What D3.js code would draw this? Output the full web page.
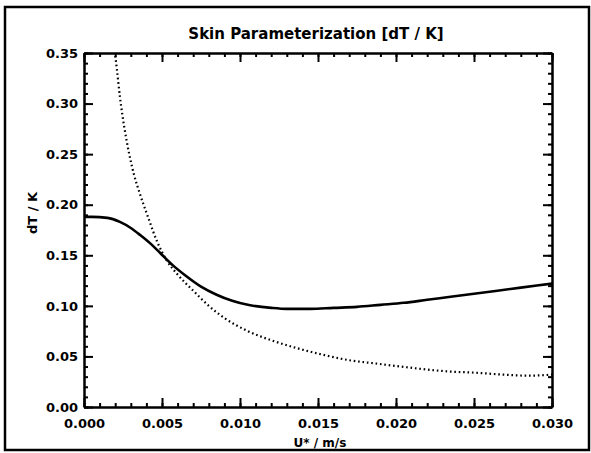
<!DOCTYPE html>
<html>
<head>
<meta charset="utf-8">
<script src="https://cdn.jsdelivr.net/npm/d3@7"></script>
<style>
body { margin: 0; background: #fff; }
text { font-family: "DejaVu Sans", sans-serif; font-weight: bold; fill: #000; }
</style>
</head>
<body>
<div id="canvas"></div>
<script>
// values
var title = "Skin Parameterization [dT / K]";
var xTicks = [0, 0.005, 0.010, 0.015, 0.020, 0.025, 0.030];
var yTicks = [0, 0.05, 0.10, 0.15, 0.20, 0.25, 0.30, 0.35];

var solidX = [0, 0.0005, 0.0015, 0.0023, 0.003, 0.0036, 0.0043, 0.0049, 0.0057, 0.0065, 0.0075, 0.0085, 0.0095, 0.0105, 0.012, 0.013, 0.0145, 0.016, 0.0175, 0.019, 0.0205, 0.022, 0.0235, 0.025, 0.0265, 0.028, 0.030];
var solidY = [0.188, 0.188, 0.187, 0.183, 0.177, 0.170, 0.161, 0.152, 0.140, 0.130, 0.119, 0.111, 0.105, 0.101, 0.098, 0.097, 0.097, 0.098, 0.099, 0.101, 0.103, 0.106, 0.109, 0.112, 0.115, 0.118, 0.122];

var dotX = [0.0019, 0.0021, 0.0023, 0.0026, 0.0029, 0.0032, 0.0036, 0.0041, 0.0047, 0.0053, 0.006, 0.007, 0.008, 0.009, 0.0105, 0.012, 0.0137, 0.0155, 0.0171, 0.0187, 0.0203, 0.022, 0.0235, 0.025, 0.0269, 0.0285, 0.030];
var dotY = [0.36, 0.335, 0.307, 0.275, 0.25, 0.23, 0.21, 0.188, 0.163, 0.145, 0.131, 0.115, 0.100, 0.088, 0.075, 0.066, 0.058, 0.051, 0.046, 0.043, 0.040, 0.037, 0.035, 0.034, 0.032, 0.031, 0.032];

var W = 591, H = 453;
var pLeft = 84, pRight = 552, pTop = 53, pBottom = 407;

var svg = d3.select("#canvas")
	.append("svg")
	.attr("width", W)
	.attr("height", H);

// outer frame
svg.append("rect")
	.attr("x", 5).attr("y", 7)
	.attr("width", 584).attr("height", 443)
	.attr("fill", "none")
	.attr("stroke", "#000")
	.attr("stroke-width", 2.5);

var x = d3.scaleLinear().domain([0, 0.03]).range([pLeft, pRight]);
var y = d3.scaleLinear().domain([0, 0.35]).range([pBottom, pTop]);

var xMinor = d3.range(0, 31).map(function(d){ return d * 0.001; });
var yMinor = d3.range(0, 36).map(function(d){ return d * 0.01; });

function styleAxis(g) {
	g.selectAll("path").attr("stroke", "#000").attr("stroke-width", 2);
	g.selectAll("line").attr("stroke", "#000").attr("stroke-width", 2);
}

// minor ticks
svg.append("g").attr("transform", "translate(0," + pBottom + ")")
	.call(d3.axisBottom(x).tickValues(xMinor).tickSize(-4).tickSizeOuter(0).tickFormat(""))
	.call(styleAxis);
svg.append("g").attr("transform", "translate(0," + pTop + ")")
	.call(d3.axisTop(x).tickValues(xMinor).tickSize(-4).tickSizeOuter(0).tickFormat(""))
	.call(styleAxis);
svg.append("g").attr("transform", "translate(" + pLeft + ",0)")
	.call(d3.axisLeft(y).tickValues(yMinor).tickSize(-4).tickSizeOuter(0).tickFormat(""))
	.call(styleAxis);
svg.append("g").attr("transform", "translate(" + pRight + ",0)")
	.call(d3.axisRight(y).tickValues(yMinor).tickSize(-4).tickSizeOuter(0).tickFormat(""))
	.call(styleAxis);

// major ticks
var xb = svg.append("g").attr("transform", "translate(0," + pBottom + ")")
	.call(d3.axisBottom(x).tickValues(xTicks).tickSize(-9).tickSizeOuter(0).tickPadding(12).tickFormat(d3.format(".3f")))
	.call(styleAxis);
xb.selectAll("text").attr("font-size", 13).attr("font-family", "DejaVu Sans").attr("font-weight", "bold");

svg.append("g").attr("transform", "translate(0," + pTop + ")")
	.call(d3.axisTop(x).tickValues(xTicks).tickSize(-9).tickSizeOuter(0).tickFormat(""))
	.call(styleAxis);

var yl = svg.append("g").attr("transform", "translate(" + pLeft + ",0)")
	.call(d3.axisLeft(y).tickValues(yTicks).tickSize(-9).tickSizeOuter(0).tickPadding(6).tickFormat(d3.format(".2f")))
	.call(styleAxis);
yl.selectAll("text").attr("font-size", 13).attr("font-family", "DejaVu Sans").attr("font-weight", "bold");

svg.append("g").attr("transform", "translate(" + pRight + ",0)")
	.call(d3.axisRight(y).tickValues(yTicks).tickSize(-9).tickSizeOuter(0).tickFormat(""))
	.call(styleAxis);

// curves
svg.append("clipPath").attr("id", "plotClip")
	.append("rect")
	.attr("x", pLeft).attr("y", pTop)
	.attr("width", pRight - pLeft).attr("height", pBottom - pTop);

var line = d3.line()
	.x(function(d){ return x(d[0]); })
	.y(function(d){ return y(d[1]); })
	.curve(d3.curveMonotoneX);

svg.append("path")
	.datum(d3.zip(solidX, solidY))
	.attr("d", line)
	.attr("clip-path", "url(#plotClip)")
	.attr("fill", "none")
	.attr("stroke", "#000")
	.attr("stroke-width", 2.6);

svg.append("path")
	.datum(d3.zip(dotX, dotY))
	.attr("d", line)
	.attr("clip-path", "url(#plotClip)")
	.attr("fill", "none")
	.attr("stroke", "#000")
	.attr("stroke-width", 2.2)
	.attr("stroke-dasharray", "1.6,2.8");

// texts
svg.append("text")
	.text(title)
	.attr("x", 316).attr("y", 39)
	.attr("text-anchor", "middle")
	.attr("font-size", 15);

svg.append("text")
	.text("U* / m/s")
	.attr("x", 320).attr("y", 447)
	.attr("text-anchor", "middle")
	.attr("font-size", 12);

svg.append("text")
	.text("dT / K")
	.attr("transform", "translate(37,213) rotate(-90)")
	.attr("text-anchor", "middle")
	.attr("font-size", 13);
</script>
</body>
</html>
